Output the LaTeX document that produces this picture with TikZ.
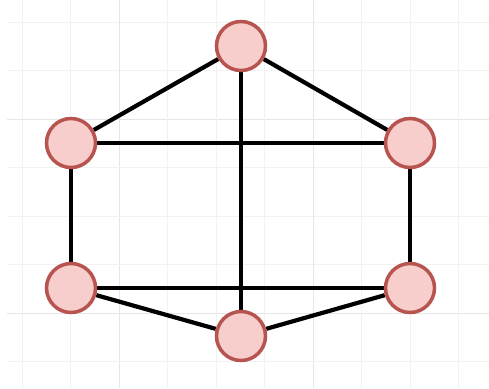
\documentclass[tikz,border=0pt]{standalone}
\usetikzlibrary{backgrounds}
\definecolor{gridminor}{HTML}{F2F2F2}
\definecolor{gridmajor}{HTML}{E6E6E6}
\definecolor{vfill}{HTML}{F8CECC}
\definecolor{vline}{HTML}{B85450}
\tikzset{
  vertex/.style={circle, draw=vline, fill=vfill, line width=3.5pt, minimum size=49pt, inner sep=0pt},
  edge/.style={draw=black, line width=4.2pt},
  minorgrid/.style={draw=gridminor, line width=1pt},
  majorgrid/.style={draw=gridmajor, line width=1pt}
}
\begin{document}
\begin{tikzpicture}[x=1pt, y=-1pt]
  \useasboundingbox (0,0) rectangle (489,388);
  % vertices
  \node[vertex] (t)  at (241,46)  {};
  \node[vertex] (lu) at (71,143)  {};
  \node[vertex] (ru) at (410,143) {};
  \node[vertex] (ll) at (71,288)  {};
  \node[vertex] (rl) at (410,288) {};
  \node[vertex] (b)  at (241,336) {};
  % background grid, every fourth line a little darker
  \begin{scope}[on background layer]
    \fill[white] (0,0) rectangle (489,388);
    \foreach \k in {0,...,9} {
      \pgfmathsetmacro{\p}{22+48.5*\k}
      \ifnum\k=2 \def\gs{majorgrid}\else\ifnum\k=6 \def\gs{majorgrid}\else\def\gs{minorgrid}\fi\fi
      \draw[\gs] (\p,0) -- (\p,388);
      \draw[\gs] (7,\p) -- (489,\p);
    }
  \end{scope}
  % edges
  \begin{scope}[on background layer]
    \draw[edge] (t) -- (lu);
    \draw[edge] (t) -- (ru);
    \draw[edge] (t) -- (b);
    \draw[edge] (lu) -- (ru);
    \draw[edge] (lu) -- (ll);
    \draw[edge] (ru) -- (rl);
    \draw[edge] (ll) -- (rl);
    \draw[edge] (ll) -- (b);
    \draw[edge] (rl) -- (b);
  \end{scope}
\end{tikzpicture}
\end{document}
